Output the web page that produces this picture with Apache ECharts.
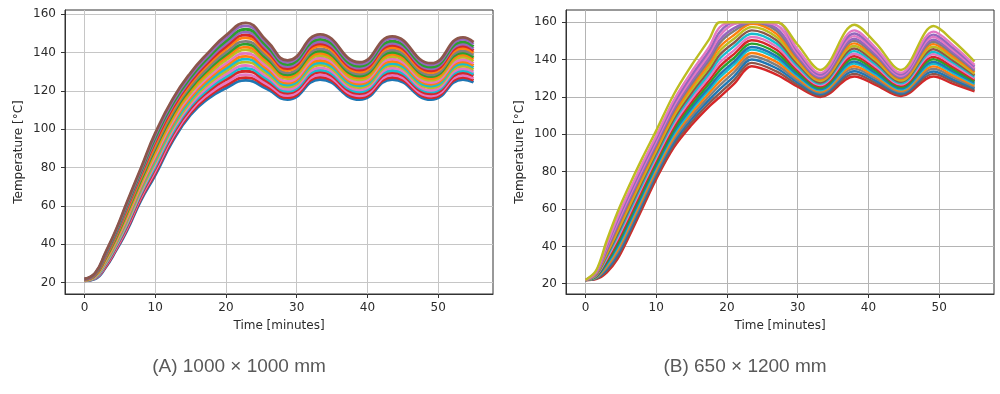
<!DOCTYPE html>
<html><head><meta charset="utf-8">
<script src="https://cdn.jsdelivr.net/npm/echarts@6/dist/echarts.min.js"></script>
<style>html,body{margin:0;padding:0;background:#fff}#c{width:1000px;height:394px}</style>
</head><body><div id="c"></div>
<script>
// ---- Data: (A) 1000 x 1000 mm ----
const tA = [0, 1.5, 3, 4.5, 6, 8, 10, 12.5, 15, 17.5, 20, 22.8, 25.8, 28.7, 33.3, 38.9, 43.5, 49, 53.5, 55];
const a00 = [21, 22, 28, 37, 47, 63, 76, 94, 107.5, 116, 121.5, 125.5, 121, 115.5, 126, 115.5, 126, 115.5, 126, 124.5];
const a01 = [21, 22.2, 28.4, 37.6, 47.8, 63.9, 77.1, 95.1, 108.6, 117.2, 122.9, 127, 122.3, 116.5, 127.2, 116.5, 127.1, 116.5, 127.1, 125.6];
const a02 = [21.1, 22.3, 28.8, 38.1, 48.5, 64.7, 78.2, 96.2, 109.7, 118.4, 124.3, 128.5, 123.5, 117.6, 128.4, 117.5, 128.3, 117.4, 128.2, 126.6];
const a03 = [21.2, 22.5, 29.3, 38.8, 49.4, 65.7, 79.5, 97.5, 111, 119.8, 125.9, 130.3, 125, 118.8, 129.8, 118.6, 129.6, 118.5, 129.5, 127.9];
const a04 = [21.2, 22.6, 29.7, 39.3, 50.2, 66.6, 80.6, 98.6, 112.1, 121, 127.3, 131.8, 126.3, 119.8, 130.9, 119.6, 130.7, 119.5, 130.6, 128.9];
const a05 = [21.3, 22.8, 30.1, 39.9, 50.9, 67.4, 81.7, 99.7, 113.2, 122.2, 128.7, 133.3, 127.5, 120.8, 132.1, 120.6, 131.9, 120.4, 131.7, 130];
const a06 = [21.3, 23, 30.6, 40.5, 51.8, 68.4, 83, 101, 114.5, 123.7, 130.3, 135.1, 129, 122.1, 133.5, 121.7, 133.2, 121.6, 133, 131.2];
const a07 = [21.4, 23.1, 31, 41.1, 52.6, 69.3, 84.1, 102.1, 115.6, 124.9, 131.7, 136.6, 130.3, 123.1, 134.7, 122.7, 134.3, 122.5, 134.1, 132.3];
const a08 = [21.4, 23.3, 31.4, 41.6, 53.3, 70.1, 85.2, 103.2, 116.7, 126.1, 133.1, 138.1, 131.5, 124.1, 135.9, 123.7, 135.5, 123.5, 135.2, 133.3];
const a09 = [21.5, 23.4, 31.8, 42.2, 54.1, 71, 86.3, 104.3, 117.8, 127.3, 134.4, 139.6, 132.8, 125.1, 137.1, 124.7, 136.6, 124.4, 136.3, 134.4];
const a10 = [21.5, 23.6, 32.2, 42.8, 55, 72, 87.7, 105.7, 119.2, 128.7, 136.1, 141.4, 134.3, 126.4, 138.5, 125.8, 137.9, 125.6, 137.7, 135.6];
const a11 = [21.6, 23.7, 32.6, 43.4, 55.7, 72.9, 88.8, 106.8, 120.3, 129.9, 137.5, 142.9, 135.5, 127.4, 139.6, 126.8, 139.1, 126.5, 138.8, 136.7];
const a12 = [21.6, 23.9, 33, 43.9, 56.5, 73.7, 89.9, 107.9, 121.4, 131.1, 138.8, 144.4, 136.8, 128.4, 140.8, 127.8, 140.2, 127.5, 139.9, 137.7];
const a13 = [21.7, 24, 33.4, 44.5, 57.2, 74.6, 91, 109, 122.5, 132.3, 140.2, 145.9, 138, 129.4, 142, 128.8, 141.3, 128.4, 141, 138.8];
const a14 = [21.7, 24.2, 33.9, 45.1, 58.1, 75.6, 92.3, 110.3, 123.8, 133.8, 141.9, 147.7, 139.5, 130.7, 143.4, 129.9, 142.7, 129.6, 142.3, 140];
const a15 = [21.8, 24.4, 34.3, 45.7, 58.9, 76.4, 93.4, 111.4, 124.9, 135, 143.2, 149.2, 140.8, 131.7, 144.6, 130.9, 143.8, 130.5, 143.4, 141.1];
const a16 = [21.8, 24.5, 34.7, 46.2, 59.6, 77.3, 94.5, 112.5, 126, 136.2, 144.6, 150.7, 142, 132.7, 145.7, 131.9, 144.9, 131.5, 144.5, 142.1];
const a17 = [21.9, 24.7, 35.1, 46.8, 60.4, 78.1, 95.6, 113.6, 127.1, 137.4, 146, 152.2, 143.3, 133.8, 146.9, 132.9, 146, 132.4, 145.6, 143.2];
const a18 = [21.9, 24.9, 35.6, 47.5, 61.3, 79.2, 96.9, 114.9, 128.4, 138.8, 147.6, 154, 144.8, 135, 148.3, 134, 147.4, 133.6, 146.9, 144.5];
const a19 = [22, 25, 36, 48, 62, 80, 98, 116, 129.5, 140, 149, 155.5, 146, 136, 149.5, 135, 148.5, 134.5, 148, 145.5];

// ---- Data: (B) 650 x 1200 mm ----
const tB = [0, 1.5, 3, 4.5, 6, 8, 10, 12.5, 15, 17.5, 19, 21, 23.5, 27, 30, 33.2, 38, 41, 44.6, 49.2, 52, 55];
const b00 = [22, 22.5, 26, 33, 44, 60, 76, 93, 105, 115, 120, 127, 136.5, 132, 125.5, 120, 131, 126.5, 120.5, 131, 127, 123];
const b01 = [22, 22.7, 26.9, 34.3, 45.4, 61.4, 77.3, 94.4, 106.6, 116.8, 122.1, 129.1, 138.3, 133.7, 126.6, 120.7, 132.4, 127.6, 121.2, 132.4, 128.2, 123.8];
const b02 = [22, 23, 27.7, 35.5, 46.7, 62.7, 78.6, 95.9, 108.2, 118.6, 124.2, 131.1, 140.1, 135.4, 127.8, 121.5, 133.8, 128.8, 121.9, 133.7, 129.3, 124.6];
const b03 = [22, 23.2, 28.6, 36.8, 48.1, 64.1, 79.9, 97.3, 109.8, 120.4, 126.3, 133.2, 141.8, 137.1, 128.9, 122.2, 135.2, 129.9, 122.6, 135.1, 130.5, 125.4];
const b04 = [22, 23.4, 29.4, 38, 49.4, 65.4, 81.2, 98.7, 111.4, 122.2, 128.4, 135.2, 143.6, 138.8, 130, 122.9, 136.5, 131, 123.3, 136.4, 131.6, 126.2];
const b05 = [22, 23.6, 30.3, 39.3, 50.8, 66.8, 82.5, 100.1, 113, 124, 130.5, 137.3, 145.4, 140.5, 131.1, 123.6, 137.9, 132.1, 124, 137.8, 132.8, 127];
const b06 = [22, 23.8, 30.9, 40.3, 51.8, 67.8, 83.5, 101.3, 114.3, 125.4, 132.2, 138.9, 146.8, 141.9, 132, 124.2, 139, 133, 124.6, 138.8, 133.7, 127.6];
const b07 = [22, 24, 31.8, 41.5, 53.2, 69.2, 84.8, 102.7, 115.9, 127.2, 134.3, 140.9, 148.6, 143.6, 133.2, 124.9, 140.4, 134.2, 125.3, 140.2, 134.8, 128.4];
const b08 = [22, 24.3, 32.6, 42.8, 54.5, 70.5, 86.1, 104.1, 117.5, 129, 136.4, 143, 150.4, 145.3, 134.3, 125.7, 141.8, 135.3, 126, 141.5, 136, 129.2];
const b09 = [22, 24.5, 33.5, 44, 55.9, 71.9, 87.4, 105.5, 119.1, 130.8, 138.5, 145, 152.1, 147, 135.4, 126.4, 143.2, 136.4, 126.7, 142.9, 137.1, 130];
const b10 = [22, 24.7, 34.3, 45.3, 57.2, 73.2, 88.7, 107, 120.7, 132.6, 140.6, 147.1, 153.9, 148.7, 136.5, 127.1, 144.6, 137.5, 127.4, 144.2, 138.3, 130.8];
const b11 = [22, 24.9, 35.2, 46.5, 58.6, 74.6, 90, 108.4, 122.3, 134.4, 142.7, 149.1, 155.7, 150.4, 137.7, 127.8, 146, 138.7, 128.1, 145.6, 139.4, 131.6];
const b12 = [22, 25.2, 36, 47.8, 59.9, 75.9, 91.3, 109.8, 123.9, 136.2, 144.8, 151.2, 157.5, 152.1, 138.8, 128.6, 147.3, 139.8, 128.8, 146.9, 140.6, 132.4];
const b13 = [22, 25.4, 36.9, 49, 61.3, 77.3, 92.6, 111.2, 125.5, 138, 146.9, 153.2, 159.2, 153.8, 139.9, 129.3, 148.7, 140.9, 129.5, 148.3, 141.7, 133.2];
const b14 = [22, 25.6, 37.7, 50.3, 62.6, 78.6, 93.9, 112.7, 127.1, 139.8, 149, 155.3, 160, 155.5, 141, 130, 150.1, 142, 130.2, 149.6, 142.9, 134];
const b15 = [22, 25.8, 38.4, 51.3, 63.7, 79.7, 95, 113.8, 128.4, 141.3, 150.7, 156.9, 160, 156.8, 141.9, 130.6, 151.2, 142.9, 130.7, 150.7, 143.8, 134.7];
const b16 = [22, 26, 39.3, 52.5, 65.1, 81.1, 96.3, 115.2, 130, 143.1, 152.8, 159, 160, 158.5, 143.1, 131.3, 152.6, 144.1, 131.4, 152.1, 144.9, 135.5];
const b17 = [22, 26.2, 40.1, 53.8, 66.4, 82.4, 97.6, 116.7, 131.6, 144.9, 154.9, 160, 160, 160, 144.2, 132, 154, 145.2, 132.1, 153.4, 146.1, 136.3];
const b18 = [22, 26.5, 41.1, 55.3, 68, 84, 99.1, 118.4, 133.5, 147, 157.4, 160, 160, 160, 145.5, 132.9, 155.7, 146.5, 133, 155, 147.5, 137.2];
const b19 = [22, 27, 43, 58, 71, 87, 102, 121.5, 137, 151, 160, 160, 160, 160, 148, 134.5, 158.7, 149, 134.5, 158, 150, 139];

// ---- Tick labels ----
const xTicks = [0, 10, 20, 30, 40, 50];
const yTicks = [20, 40, 60, 80, 100, 120, 140, 160];
const titleA = '(A) 1000 × 1000 mm';
const titleB = '(B) 650 × 1200 mm';
const xName = 'Time [minutes]';
const yName = 'Temperature [°C]';

const curvesA = [a00,a01,a02,a03,a04,a05,a06,a07,a08,a09,a10,a11,a12,a13,a14,a15,a16,a17,a18,a19];
const curvesB = [b00,b01,b02,b03,b04,b05,b06,b07,b08,b09,b10,b11,b12,b13,b14,b15,b16,b17,b18,b19];

// ---- Styles ----
const C = {blue:'#1f77b4',orange:'#ff7f0e',green:'#2ca02c',red:'#d62728',purple:'#9467bd',brown:'#8c564b',pink:'#e377c2',gray:'#7f7f7f',olive:'#bcbd22',cyan:'#17becf'};
const colorsA = [C.blue,C.red,C.pink,C.red,C.cyan,C.pink,C.olive,C.cyan,C.orange,C.pink,C.olive,C.orange,C.green,C.gray,C.orange,C.red,C.purple,C.green,C.purple,C.brown];
const colorsB = [C.red,C.brown,C.blue,C.gray,C.orange,C.cyan,C.blue,C.green,C.red,C.pink,C.cyan,C.brown,C.olive,C.orange,C.gray,C.purple,C.pink,C.purple,C.pink,C.olive];

const tickFont = {fontFamily:'DejaVu Sans', fontSize:12, color:'#2b2b2b'};

function xAxisCfg(gi, gridColor){
  return {
    type:'value', gridIndex:gi, min:-2.75, max:57.75, splitNumber:6,
    axisLine:{show:true, onZero:false, lineStyle:{color:'#333', width:1}},
    axisTick:{show:true, inside:false, length:4, customValues:xTicks, lineStyle:{color:'#333', width:1}},
    axisLabel:{customValues:xTicks, margin:8, ...tickFont},
    splitLine:{show:true, lineStyle:{color:gridColor, width:1}},
    name:xName, nameLocation:'middle', nameGap:26, nameTextStyle:{...tickFont}
  };
}
function yAxisCfg(gi, mn, mx, gridColor){
  return {
    type:'value', gridIndex:gi, min:mn, max:mx, splitNumber:7,
    axisLine:{show:true, onZero:false, lineStyle:{color:'#333', width:1}},
    axisTick:{show:true, inside:false, length:4, customValues:yTicks, lineStyle:{color:'#333', width:1}},
    axisLabel:{customValues:yTicks, margin:9, ...tickFont},
    splitLine:{show:true, lineStyle:{color:gridColor, width:1}},
    name:yName, nameLocation:'middle', nameRotate:90, nameGap:40, nameTextStyle:{...tickFont}
  };
}

const series = [];
curvesA.forEach((c,i)=>{
  series.push({type:'line', xAxisIndex:0, yAxisIndex:0, data:tA.map((t,j)=>[t,c[j]]),
    showSymbol:false, smooth:0.5, silent:true, lineStyle:{width:2.8, color:colorsA[i]}});
});
curvesB.forEach((c,i)=>{
  series.push({type:'line', xAxisIndex:1, yAxisIndex:1, data:tB.map((t,j)=>[t,c[j]]),
    showSymbol:false, smooth:0.35, silent:true, lineStyle:{width:2.4, color:colorsB[i]}});
});

const chart = echarts.init(document.getElementById('c'), null, {renderer:'canvas'});
chart.setOption({
  animation:false,
  backgroundColor:'#fff',
  grid:[
    {left:65, top:10, width:428, height:284, show:true, borderColor:'#333', borderWidth:1},
    {left:566, top:10, width:428, height:284, show:true, borderColor:'#333', borderWidth:1}
  ],
  xAxis:[xAxisCfg(0,'#c6c6c6'), xAxisCfg(1,'#b4b4b4')],
  yAxis:[yAxisCfg(0,14.1,162.25,'#c6c6c6'), yAxisCfg(1,14.5,166.6,'#b4b4b4')],
  graphic:[
    {type:'text', x:239, y:367, silent:true, style:{text:titleA, fontFamily:'Liberation Sans', fontSize:19, fill:'#595959', align:'center', verticalAlign:'middle'}},
    {type:'text', x:745, y:367, silent:true, style:{text:titleB, fontFamily:'Liberation Sans', fontSize:19, fill:'#595959', align:'center', verticalAlign:'middle'}}
  ],
  series:series
});
</script></body></html>
